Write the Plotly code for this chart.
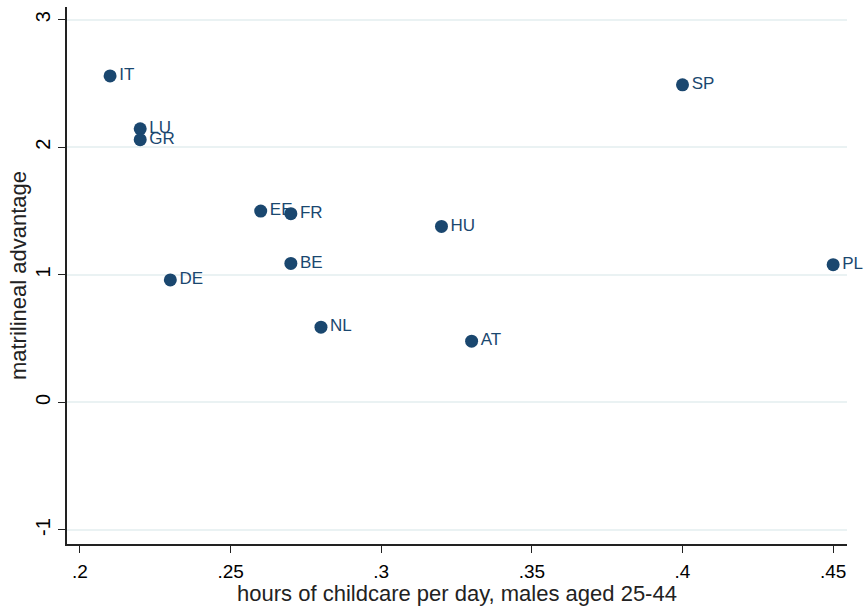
import plotly.graph_objects as go

countries = ["IT", "LU", "GR", "DE", "EE", "FR", "BE", "NL", "HU", "AT", "SP", "PL"]
childcare_hours = [0.21, 0.22, 0.22, 0.23, 0.26, 0.27, 0.27, 0.28, 0.32, 0.33, 0.40, 0.45]
matrilineal_adv = [2.56, 2.145, 2.06, 0.96, 1.50, 1.48, 1.09, 0.59, 1.38, 0.48, 2.49, 1.08]

x_ticks = [0.2, 0.25, 0.3, 0.35, 0.4, 0.45]
x_ticklabels = [".2", ".25", ".3", ".35", ".4", ".45"]
y_ticks = [-1, 0, 1, 2, 3]
y_ticklabels = ["-1", "0", "1", "2", "3"]

navy = "#1a476f"
font = "Liberation Sans, Arial, sans-serif"

fig = go.Figure()
fig.add_trace(go.Scatter(
    x=childcare_hours, y=matrilineal_adv, mode="markers+text",
    text=countries, textposition="middle right",
    marker=dict(color=navy, size=13, line=dict(width=0)),
    textfont=dict(color=navy, size=17, family=font),
    cliponaxis=False, showlegend=False,
))

fig.update_layout(
    width=867, height=606,
    margin=dict(l=67, r=20, t=7, b=62),
    paper_bgcolor="white", plot_bgcolor="white",
    font=dict(family=font, color="black"),
)
fig.update_xaxes(
    range=[0.1957, 0.4546], tickvals=x_ticks, ticktext=x_ticklabels, automargin=False,
    showgrid=False, zeroline=False, showline=True, linecolor="#222222", linewidth=1.5,
    ticks="outside", ticklen=7, tickcolor="#222222", tickfont=dict(size=19, color="black"),
    ticklabelstandoff=2,
    title=dict(text="hours of childcare per day, males aged 25-44", font=dict(size=22, color="#222222"), standoff=1),
)
fig.update_yaxes(
    range=[-1.11, 3.10], tickvals=y_ticks, ticktext=y_ticklabels, tickangle=-90, automargin=False,
    showgrid=True, gridcolor="#eaf2f3", gridwidth=1.5, zeroline=False,
    showline=True, linecolor="#222222", linewidth=1.5,
    ticks="outside", ticklen=7, tickcolor="#222222", tickfont=dict(size=20, color="black"),
    title=dict(text="matrilineal advantage", font=dict(size=22, color="#222222"), standoff=0),
)

fig.write_html("out.html", config={"displayModeBar": False},
               post_script="document.body.style.margin='0';document.body.style.overflow='hidden';")
